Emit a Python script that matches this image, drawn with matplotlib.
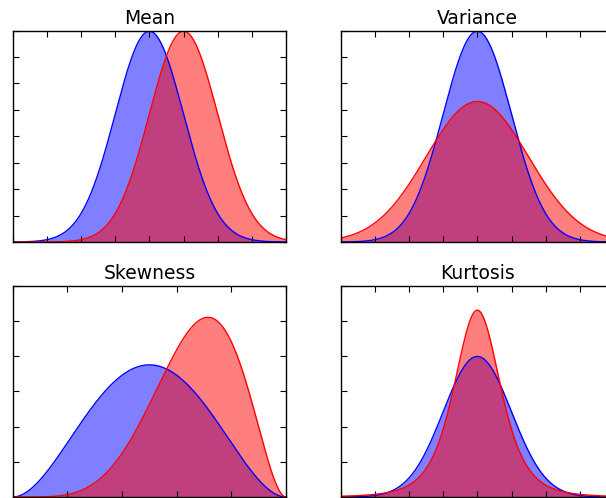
import math

import numpy as np
import matplotlib
matplotlib.use('Agg')
import matplotlib.pyplot as plt

titles = ['Mean', 'Variance', 'Skewness', 'Kurtosis']

# normal (mu, sigma): blue, red
mean_params = [(0.0, 1.0), (1.0, 1.0)]
variance_params = [(0.0, 1.0), (0.0, 1.5)]
# beta (a, b): blue, red
skew_params = [(3, 3), (6, 3)]
# blue is a standard normal, red a student t scaled to unit variance
kurt_sigma = 1.0
kurt_dof = 4

xlims = [(-4, 4), (-4, 4), (0, 1), (-4, 4)]
ylims = [(0, 0.4), (0, 0.4), (0, 3.0), (0, 0.6)]
xtick_steps = [1, 1, 0.2, 1]
ytick_steps = [0.05, 0.05, 0.5, 0.1]


def norm_pdf(x, mu, sigma):
  return np.exp(-0.5 * ((x - mu) / sigma) ** 2) / (sigma * math.sqrt(2 * math.pi))


def beta_pdf(x, a, b):
  norm = math.gamma(a) * math.gamma(b) / math.gamma(a + b)
  return x ** (a - 1) * (1 - x) ** (b - 1) / norm


def t_unit_pdf(x, dof):
  # student t rescaled so the variance is 1
  scale = math.sqrt((dof - 2) / dof)
  c = math.gamma((dof + 1) / 2) / (math.sqrt(dof * math.pi) * math.gamma(dof / 2))
  z = x / scale
  return c * (1 + z ** 2 / dof) ** (-(dof + 1) / 2) / scale


def ticks(lo, hi, step):
  n = int(round((hi - lo) / step))
  return np.linspace(lo, hi, n + 1)


def curves(i):
  lo, hi = xlims[i]
  x = np.linspace(lo, hi, 600)
  if i == 0:
    return x, [norm_pdf(x, m, s) for m, s in mean_params]
  if i == 1:
    return x, [norm_pdf(x, m, s) for m, s in variance_params]
  if i == 2:
    return x, [beta_pdf(x, a, b) for a, b in skew_params]
  return x, [norm_pdf(x, 0.0, kurt_sigma), t_unit_pdf(x, kurt_dof)]


def main():
  fig = plt.figure(figsize=(6.06, 4.98), dpi=100)
  fig.patch.set_facecolor('white')

  # axes boxes in figure fractions; the right column runs a little past the edge
  lefts = [0.021, 0.5622, 0.021, 0.5622]
  bottoms = [0.514, 0.514, 0.002, 0.002]
  width, height = 0.451, 0.4245

  for i, title in enumerate(titles):
    ax = fig.add_axes([lefts[i], bottoms[i], width, height])
    x, (blue, red) = curves(i)
    ax.fill_between(x, blue, color='b', alpha=0.5, linewidth=0)
    ax.fill_between(x, red, color='r', alpha=0.5, linewidth=0)
    ax.plot(x, blue, color='b', linewidth=1.0)
    ax.plot(x, red, color='r', linewidth=1.0)

    ax.set_xlim(*xlims[i])
    ax.set_ylim(*ylims[i])
    ax.set_xticks(ticks(*xlims[i], xtick_steps[i]))
    ax.set_yticks(ticks(*ylims[i], ytick_steps[i]))
    ax.tick_params(direction='in', top=True, right=True, length=4.5, width=0.8,
                   labelbottom=False, labelleft=False)
    for spine in ax.spines.values():
      spine.set_linewidth(1.0)
    ax.set_title(title, fontsize=13.5, pad=5)

  fig.savefig('out.png', dpi=100, facecolor='white')
  plt.close(fig)


if __name__ == '__main__':
  main()
